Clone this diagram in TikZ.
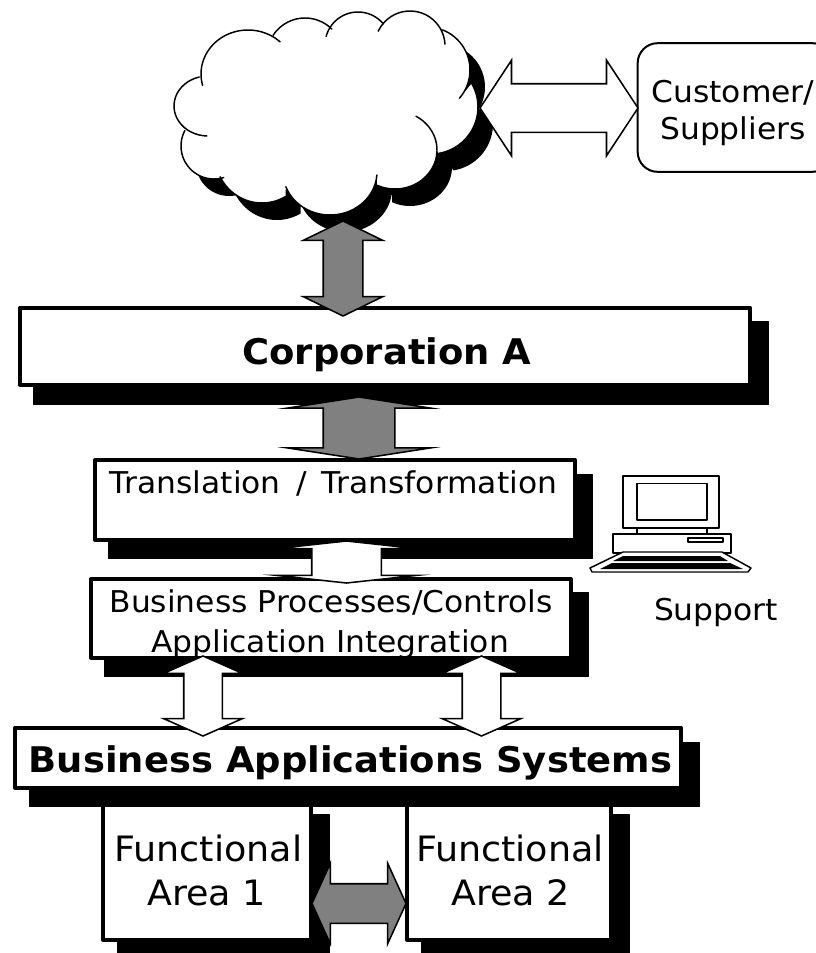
\documentclass[tikz,border=0pt]{standalone}
\usepackage{fontspec}
\setmainfont{DejaVu Sans}[FakeStretch=1.045]
\usetikzlibrary{shapes.arrows}
\definecolor{arrowgray}{HTML}{808080}
\tikzset{
  x=0.75pt,y=-0.75pt,
  boxline/.style={draw=black,fill=white,line width=3pt,line join=round,inner sep=0pt,outer sep=0pt},
  shadowbox/.style={fill=black,draw=black,line width=0.5pt,line join=round,inner sep=0pt,outer sep=0pt},
  regular/.style={inner sep=0pt,outer sep=0pt,anchor=base,align=center,font=\fontsize{22.5pt}{28pt}\selectfont},
  bigtext/.style={inner sep=0pt,outer sep=0pt,anchor=base,font=\fontsize{26.2pt}{33pt}\selectfont},
  boldtext/.style={inner sep=0pt,outer sep=0pt,anchor=base,font=\fontsize{26.5pt}{33pt}\selectfont\bfseries},
  cloudline/.style={draw=black,line width=1.1pt,line cap=round},
  iconline/.style={draw=black,line width=1.1pt,line join=round},
}
% name, style, x1, y1, x2, y2
\newcommand{\pxbox}[6]{%
  \pgfmathsetmacro\bw{(#5-#3)*0.75}\pgfmathsetmacro\bh{(#6-#4)*0.75}%
  \pgfmathsetmacro\bx{(#3+#5)/2}\pgfmathsetmacro\by{(#4+#6)/2}%
  \node[#2,minimum width=\bw pt,minimum height=\bh pt] (#1) at (\bx,\by) {};}
% name, fill, cx, cy, rotation, length, half shaft, half head, head length
\newcommand{\dblarrow}[9]{%
  \pgfmathsetmacro\al{#6*0.75}\pgfmathsetmacro\as{#7*0.75}%
  \pgfmathsetmacro\ae{(#8-#7)*0.75}\pgfmathsetmacro\at{2*atan(#8/#9)}%
  \node[double arrow,draw=black,fill=#2,line width=1.15pt,line join=miter,miter limit=20,inner xsep=0pt,inner ysep=\as pt,outer sep=0pt,
    minimum height=\al pt,minimum width=0pt,double arrow head extend=\ae pt,
    double arrow tip angle=\at,rotate=#5] (#1) at (#3,#4) {};}
% cx, cy, rx, ry, start angle, end angle (clockwise on the page)
\newcommand{\lobeplot}[6]{plot[smooth,domain=#5:#6,samples=24,variable=\t] ({#1+#3*cos(\t)},{#2+#4*sin(\t)})}
\newcommand{\lobeline}[6]{-- plot[smooth,domain=#5:#6,samples=24,variable=\t] ({#1+#3*cos(\t)},{#2+#4*sin(\t)})}
\newcommand{\cloudoutline}{\lobeplot{248}{74}{47}{44}{165}{313}
  \lobeline{305}{56}{38}{38}{213}{315}
  \lobeline{358}{45}{33}{33}{195}{320}
  \lobeline{410}{46}{35}{35}{205}{357}
  \lobeline{427}{70}{43}{43}{291}{401}
  \lobeline{431}{107}{47}{47}{330}{441}
  \lobeline{395}{150}{42}{39}{300}{475}
  \lobeline{330}{172}{47}{43}{4}{160}
  \lobeline{262}{155}{47}{48}{60}{153}
  \lobeline{214}{146}{33}{33}{73}{208}
  \lobeline{208}{106}{34}{30}{92}{255} -- cycle}
\begin{document}
\begin{tikzpicture}
\useasboundingbox (0,0) rectangle (816,953);
% cloud
\fill[black,shift={(15,17)}] \cloudoutline;
\fill[white] \cloudoutline;
\draw[cloudline] \lobeplot{248}{74}{47}{44}{165}{313};
\draw[cloudline] \lobeplot{305}{56}{38}{38}{213}{315};
\draw[cloudline] \lobeplot{358}{45}{33}{33}{195}{320};
\draw[cloudline] \lobeplot{410}{46}{35}{35}{205}{357};
\draw[cloudline] \lobeplot{427}{70}{43}{43}{291}{401};
\draw[cloudline] \lobeplot{431}{107}{47}{47}{330}{441};
\draw[cloudline] \lobeplot{395}{150}{42}{39}{300}{475};
\draw[cloudline] \lobeplot{330}{172}{47}{43}{4}{160};
\draw[cloudline] \lobeplot{262}{155}{47}{48}{60}{153};
\draw[cloudline] \lobeplot{214}{146}{33}{33}{73}{208};
\draw[cloudline] \lobeplot{208}{106}{34}{30}{92}{255};
% customer box
\node[draw=black,fill=white,line width=1.5pt,rounded corners=15pt,inner sep=0pt,outer sep=0pt,minimum width=146pt,minimum height=96.5pt] (customer) at (735,107.5) {};
\node[regular] (customerlabel) at (733,139.5) {Customer/\\Suppliers};
\dblarrow{arrowcustomer}{white}{559}{108}{0}{158}{23.5}{47}{31}
% corporation
\pxbox{corpshadow}{shadowbox}{33}{321}{768}{404}
\pxbox{corp}{boxline}{20}{307.5}{750}{385}
\node[boldtext] (corplabel) at (387,364) {Corporation A};
\dblarrow{arrowcloud}{arrowgray}{343}{268.5}{90}{95}{19}{39}{19}
% translation
\pxbox{transshadow}{shadowbox}{108}{474}{592}{558}
\pxbox{trans}{boxline}{95}{460}{575}{540}
\node[regular] (translabel) at (333.5,493) {Translation\hspace{4pt} / \hspace{4pt}Transformation};
\dblarrow{arrowtrans}{arrowgray}{359}{428}{90}{62}{35}{71}{11}
% processes
\pxbox{procshadow}{shadowbox}{104}{592}{588}{676}
\pxbox{proc}{boxline}{91}{579}{570.5}{657.5}
\node[regular] (proclabelA) at (331,612) {Business Processes/Controls};
\node[regular] (proclabelB) at (330,652) {Application Integration};
\dblarrow{arrowproc}{white}{346.5}{562}{90}{42}{34}{69}{7.5}
% functional areas
\pxbox{areaAshadow}{shadowbox}{117}{814}{329}{958}
\pxbox{areaBshadow}{shadowbox}{421}{814}{629}{958}
\pxbox{areaA}{boxline}{103}{800}{311}{939.5}
\pxbox{areaB}{boxline}{407}{800}{611}{939.5}
\node[bigtext] (areaAtop) at (208.5,861) {Functional};
\node[bigtext] (areaAbot) at (206.5,905) {Area 1};
\node[bigtext] (areaBtop) at (510,861) {Functional};
\node[bigtext] (areaBbot) at (510.5,905) {Area 2};
% applications
\pxbox{appshadow}{shadowbox}{29}{742}{699}{806}
\pxbox{app}{boxline}{15}{727.5}{681}{787.5}
\node[boldtext] (applabel) at (350.5,772) {Business Applications Systems};
\dblarrow{arrowappA}{white}{203}{696}{90}{80}{18.5}{38.5}{17}
\dblarrow{arrowappB}{white}{481.5}{696}{90}{80}{18.5}{38.5}{17}
\dblarrow{arrowareas}{arrowgray}{359}{903.5}{0}{94}{19}{39.5}{18}
% computer
\draw[iconline,fill=white] (623,476) rectangle (719,528);
\draw[iconline,fill=white] (637,483.5) rectangle (707,520);
\draw[iconline] (637,528) -- (637,534) (707,528) -- (707,534);
\draw[iconline,fill=white] (613,534) rectangle (731,553);
\draw[iconline,line width=0.9pt,fill=white] (688,538) rectangle (723,542);
\draw[iconline,fill=white] (623,552) -- (722,552) -- (751,568) -- (748,572) -- (592,572) -- (590,568) -- cycle;
\fill[black] (623,556) -- (720,556) -- (728,561) -- (613,561) -- cycle;
\fill[black] (612,563) -- (730,563) -- (743,569) -- (600,569) -- cycle;
\node[regular] (supportlabel) at (716,620) {Support};
\end{tikzpicture}
\end{document}
